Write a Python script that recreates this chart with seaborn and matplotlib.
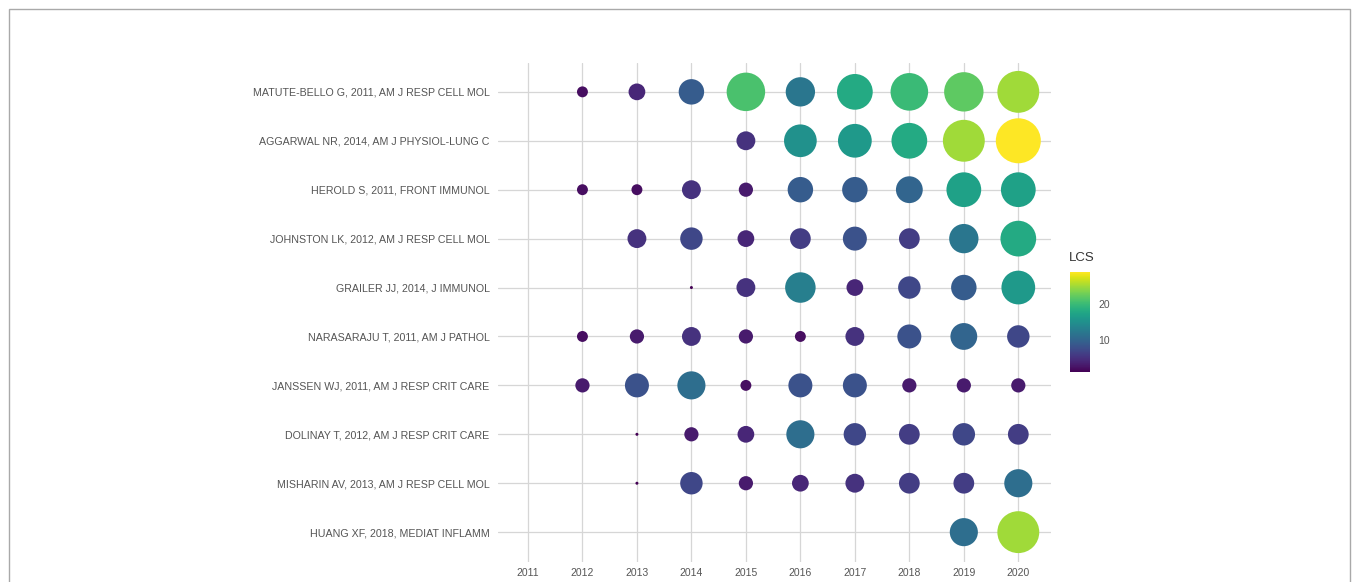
import numpy as np
import pandas as pd
import matplotlib
matplotlib.use("Agg")
import matplotlib.pyplot as plt
from matplotlib.patches import Rectangle
from matplotlib.cm import ScalarMappable
from matplotlib.colors import Normalize
import seaborn as sns

# Local citation score (LCS) per paper and year
years = [2011, 2012, 2013, 2014, 2015, 2016, 2017, 2018, 2019, 2020]
papers = [
    "MATUTE-BELLO G, 2011, AM J RESP CELL MOL",
    "AGGARWAL NR, 2014, AM J PHYSIOL-LUNG C",
    "HEROLD S, 2011, FRONT IMMUNOL",
    "JOHNSTON LK, 2012, AM J RESP CELL MOL",
    "GRAILER JJ, 2014, J IMMUNOL",
    "NARASARAJU T, 2011, AM J PATHOL",
    "JANSSEN WJ, 2011, AM J RESP CRIT CARE",
    "DOLINAY T, 2012, AM J RESP CRIT CARE",
    "MISHARIN AV, 2013, AM J RESP CELL MOL",
    "HUANG XF, 2018, MEDIAT INFLAMM",
]
lcs_matute = [None, 2, 4, 9, 21, 12, 18, 20, 22, 25]
lcs_aggarwal = [None, None, None, None, 5, 15, 16, 18, 25, 29]
lcs_herold = [None, 2, 2, 5, 3, 9, 9, 10, 17, 17]
lcs_johnston = [None, None, 5, 7, 4, 6, 8, 6, 12, 18]
lcs_grailer = [None, None, None, 1, 5, 13, 4, 7, 9, 16]
lcs_narasaraju = [None, 2, 3, 5, 3, 2, 5, 8, 10, 7]
lcs_janssen = [None, 3, 8, 11, 2, 8, 8, 3, 3, 3]
lcs_dolinay = [None, None, 1, 3, 4, 11, 7, 6, 7, 6]
lcs_misharin = [None, None, 1, 7, 3, 4, 5, 6, 6, 11]
lcs_huang = [None, None, None, None, None, None, None, None, 11, 25]

series = [lcs_matute, lcs_aggarwal, lcs_herold, lcs_johnston, lcs_grailer,
          lcs_narasaraju, lcs_janssen, lcs_dolinay, lcs_misharin, lcs_huang]

rows = []
for paper, vals in zip(papers, series):
    for yr, v in zip(years, vals):
        if v is not None:
            rows.append({"Year": yr, "Paper": paper, "LCS": v})
df = pd.DataFrame(rows)

vmin, vmax = 1, 29
DPI = 100


def marker_area(v):
    # diameter grows with the square root of the rescaled value (area scale)
    d_px = 3 + 42 * np.sqrt((v - vmin) / (vmax - vmin))
    d_pt = d_px * 72 / DPI
    return d_pt ** 2


size_map = {v: marker_area(v) for v in sorted(df["LCS"].unique())}

sns.set_theme(style="white")
plt.rcParams["font.family"] = ["Liberation Sans", "DejaVu Sans"]

W, H = 1357, 582
fig = plt.figure(figsize=(W / DPI, H / DPI), dpi=DPI)
fig.patch.set_facecolor("white")

ax_left, ax_right = 498, 1051
ax_top, ax_bottom = 62.5, 561.5
ax = fig.add_axes([ax_left / W, 1 - ax_bottom / H,
                   (ax_right - ax_left) / W, (ax_bottom - ax_top) / H])

sns.scatterplot(
    data=df, x="Year", y="Paper", hue="LCS", size="LCS",
    palette="viridis", hue_norm=(vmin, vmax), sizes=size_map,
    linewidth=0, alpha=1, legend=False, ax=ax, zorder=3,
)

ax.set_xlim(2010.45, 2020.6)
ax.set_ylim(len(papers) - 1 + 0.6, -0.6)
ax.set_xticks(years)
ax.set_xticklabels([str(y) for y in years])
ax.set_yticks(range(len(papers)))
ax.set_yticklabels(papers)
ax.set_xlabel("")
ax.set_ylabel("")
ax.grid(True, color="#d6d6d6", linewidth=0.9)
ax.set_axisbelow(True)
for s in ax.spines.values():
    s.set_visible(False)
ax.tick_params(axis="both", length=0, labelsize=7.5, labelcolor="#555555")
ax.tick_params(axis="y", pad=6, labelsize=7.65)
ax.tick_params(axis="x", pad=5)

# colour bar for LCS
cax = fig.add_axes([1070 / W, 1 - 372 / H, 20 / W, 100 / H])
sm = ScalarMappable(norm=Normalize(vmin, vmax), cmap="viridis")
cb = fig.colorbar(sm, cax=cax)
cb.outline.set_visible(False)
cb.set_ticks([10, 20])
cax.yaxis.set_ticks_position("both")
cax.tick_params(axis="y", direction="in", color="white", length=3.5, width=0.8,
                labelsize=7.5, labelcolor="#555555", pad=6,
                left=True, right=True, labelleft=False, labelright=True)
fig.text(1069 / W, 1 - 258 / H, "LCS", fontsize=9.5, color="#333333",
         ha="left", va="center")

# thin frame around the figure
fig.patches.append(Rectangle((9 / W, -0.05), (1350 - 9) / W, 1.05 - 9 / H,
                             transform=fig.transFigure, fill=False,
                             edgecolor="#a9a9a9", linewidth=1.0))

fig.savefig("out.png", dpi=DPI, facecolor="white")
